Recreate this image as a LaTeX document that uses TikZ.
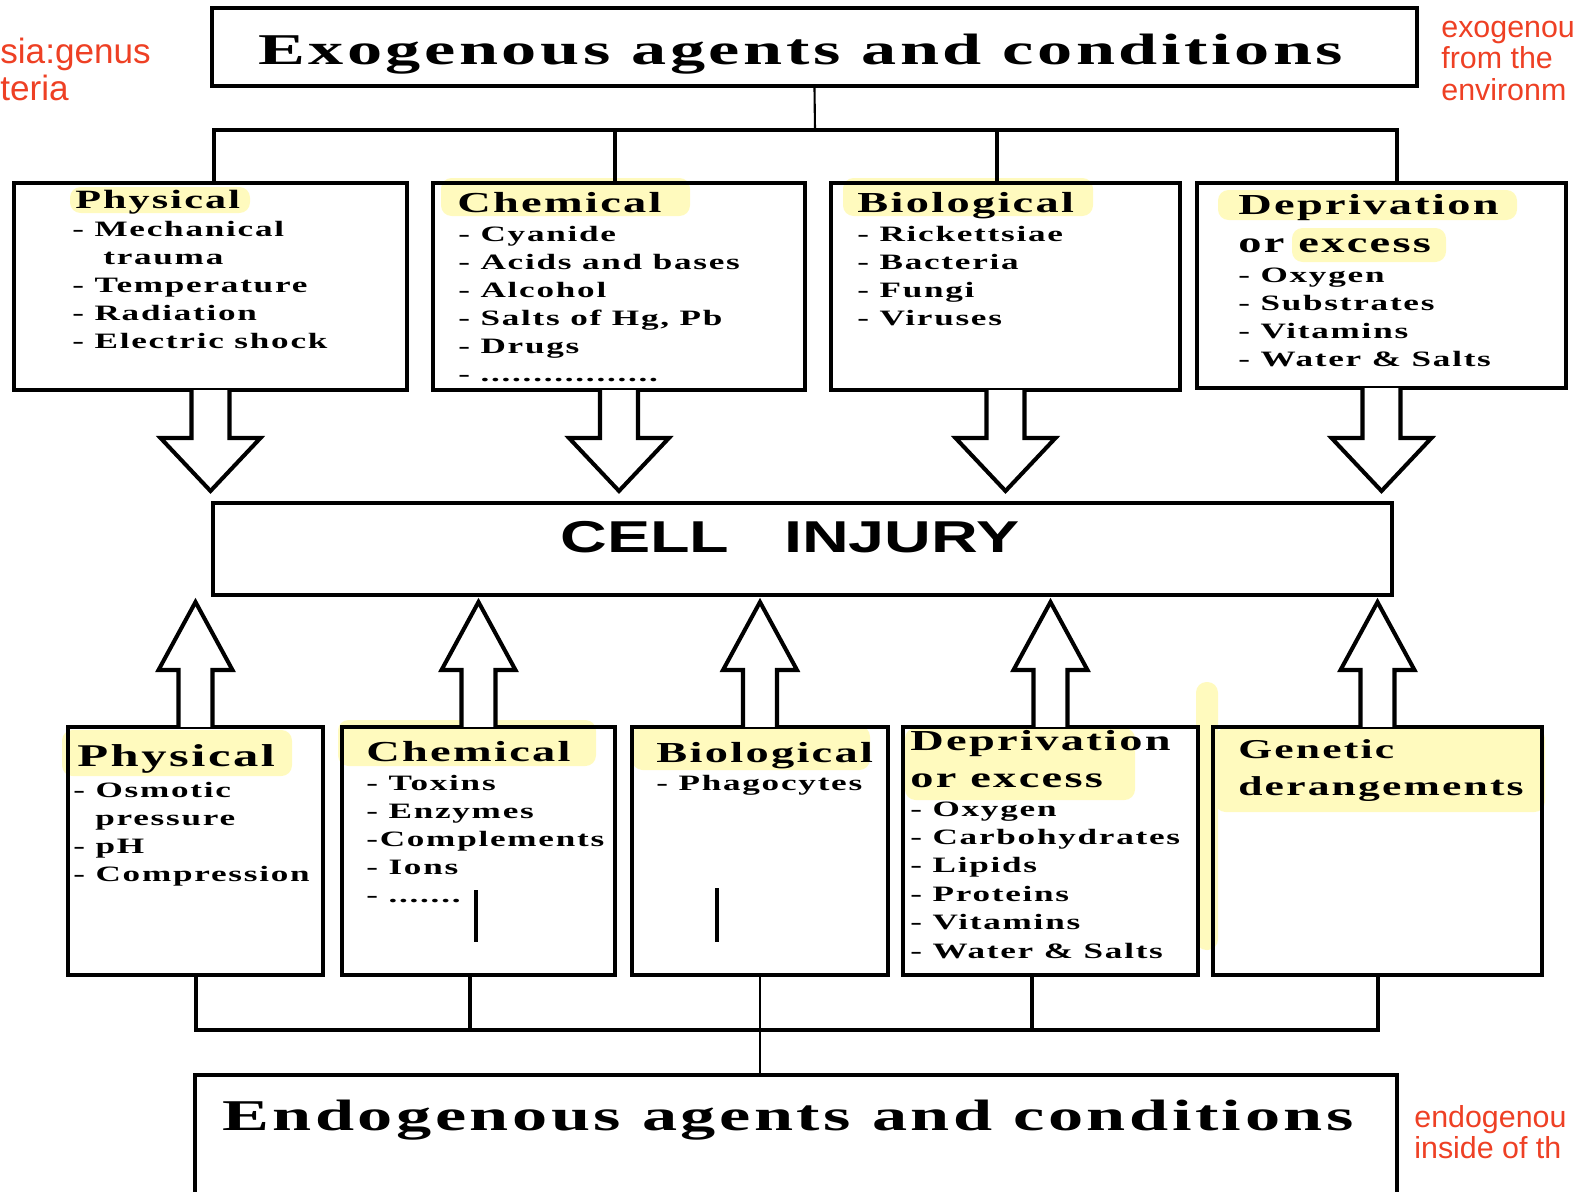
\documentclass[tikz,border=0pt]{standalone}
\usepackage{fontspec}
\setmainfont{Liberation Serif}[FakeStretch=1.6,LetterSpace=8]
\setsansfont{Liberation Sans}[FakeStretch=1.45]
\newfontfamily\notefont{Liberation Sans}
\usetikzlibrary{fit,calc}

\definecolor{marker}{RGB}{255,250,190}
\definecolor{notered}{RGB}{238,64,36}

\newcommand\longdots{.................}
\newcommand\shortdots{.......}

\tikzset{
  frame/.style={draw, line width=2.3pt, inner sep=0pt},
  bus/.style={line width=2.3pt},
  stem/.style={line width=1.2pt},
  bar/.style={line width=2.8pt},
  blockarrow/.style={draw, fill=white, line width=2.3pt, line join=miter},
  bigtitle/.style={font=\bfseries\fontsize{25}{28}\selectfont, inner sep=0pt, anchor=base west},
  boxtitle/.style={font=\bfseries\fontsize{#1}{#1}\selectfont, inner sep=0pt, anchor=base west},
  boxtitle/.default=16.5,
  entry/.style={font=\bfseries\fontsize{12.5}{15}\selectfont, inner sep=0pt, anchor=base west},
  note/.style={font=\notefont\fontsize{#1}{#1}\selectfont, text=notered, inner sep=0pt, anchor=base west},
  note/.default=17.3
}

% hollow block arrows between boxes
\newcommand\blockdown[2]{%
  \path[blockarrow] let \p1=(#1.south), \p2=(#2.north) in
    (\x1-0.38cm,\y1+0.04cm) -- (\x1-0.38cm,\y2+1.26cm) -- (\x1-1cm,\y2+1.26cm)
    -- (\x1,\y2+0.2cm) -- (\x1+1cm,\y2+1.26cm) -- (\x1+0.38cm,\y2+1.26cm)
    -- (\x1+0.38cm,\y1+0.04cm);}
\newcommand\blockup[2]{%
  \path[blockarrow] let \p1=(#1.north), \p2=(#2.south) in
    (\x1-0.34cm,\y1-0.04cm) -- (\x1-0.34cm,\y2-1.46cm) -- (\x1-0.74cm,\y2-1.46cm)
    -- (\x1,\y2-0.1cm) -- (\x1+0.74cm,\y2-1.46cm) -- (\x1+0.34cm,\y2-1.46cm)
    -- (\x1+0.34cm,\y1-0.04cm);}

\begin{document}
\begin{tikzpicture}[x=0.02cm, y=-0.02cm]
  \useasboundingbox (0,0) rectangle (1576,1191);
  \clip (0,0) rectangle (1576,1191);

  % highlights
  \fill[marker, rounded corners=6pt] (70,187) rectangle (250,213);
  \fill[marker, rounded corners=6pt] (441,178) rectangle (690,216);
  \fill[marker, rounded corners=6pt] (843,178) rectangle (1093,216);
  \fill[marker, rounded corners=6pt] (1218,190) rectangle (1517,220);
  \fill[marker, rounded corners=6pt] (1292,228) rectangle (1446,262);
  \fill[marker, rounded corners=6pt] (62,730) rectangle (292,776);
  \fill[marker, rounded corners=6pt] (338,720) rectangle (596,766);
  \fill[marker, rounded corners=6pt] (632,726) rectangle (870,770);
  \fill[marker, rounded corners=6pt] (905,728) rectangle (1135,800);
  \fill[marker, rounded corners=6pt] (1215,728) rectangle (1545,812);
  \fill[marker, rounded corners=6pt] (1196,682) rectangle (1218,950);

  % boxes
  \node[frame, fit={(212,8) (1417,86)}] (exo) {};
  \node[frame, fit={(14,183) (407,390)}] (phys1) {};
  \node[frame, fit={(433,183) (805,390)}] (chem1) {};
  \node[frame, fit={(831,183) (1180,390)}] (bio1) {};
  \node[frame, fit={(1197,183) (1566,388)}] (depr1) {};
  \node[frame, fit={(213,503) (1392,595)}] (cell) {};
  \node[frame, fit={(68,727) (323,975)}] (phys2) {};
  \node[frame, fit={(342,727) (615,975)}] (chem2) {};
  \node[frame, fit={(632,727) (888,975)}] (bio2) {};
  \node[frame, fit={(903,727) (1198,975)}] (depr2) {};
  \node[frame, fit={(1213,727) (1542,975)}] (gen2) {};
  \node[frame, fit={(195,1075) (1397,1200)}] (endo) {};

  % top tree
  \coordinate (hubT) at (815,130);
  \coordinate (d1) at (214,130);
  \coordinate (d2) at (615,130);
  \coordinate (d3) at (997,130);
  \coordinate (d4) at (1397,130);
  \draw[stem] (exo.south) -- (hubT);
  \draw[bus] (d1 |- phys1.north) -- (d1) -- (d4) -- (d4 |- depr1.north);
  \draw[bus] (d2) -- (d2 |- chem1.north);
  \draw[bus] (d3) -- (d3 |- bio1.north);

  % bottom tree
  \coordinate (u1) at (196,1030);
  \coordinate (u2) at (470,1030);
  \coordinate (u3) at (760,1030);
  \coordinate (u4) at (1032,1030);
  \coordinate (u5) at (1378,1030);
  \draw[bus] (u1 |- phys2.south) -- (u1) -- (u5) -- (u5 |- gen2.south);
  \draw[bus] (u2) -- (u2 |- chem2.south);
  \draw[bus] (u4) -- (u4 |- depr2.south);
  \draw[stem] (u3 |- bio2.south) -- (u3 |- endo.north);

  % block arrows
  \foreach \b in {phys1,chem1,bio1,depr1} \blockdown{\b}{cell};
  \foreach \b in {phys2,chem2,bio2,depr2,gen2} \blockup{\b}{cell};

  \draw[bar] (476,890) -- (476,942);
  \draw[bar] (717,888) -- (717,942);

  % titles
  \node[bigtitle] (exotxt) at (258,64) {Exogenous agents and conditions};
  \node[bigtitle] (endotxt) at (222,1130) {Endogenous agents and conditions};
  \node[font=\sffamily\bfseries\fontsize{25.4}{28}\selectfont, inner sep=0pt, anchor=base west]
    (celltxt) at (560,552) {CELL\hspace{1.1cm}INJURY};

  % exogenous boxes
  \node[boxtitle=15] (phys1t) at (75,208) {Physical};
  \foreach \t [count=\i from 0] in {{- Mechanical},{\hspace*{0.62cm}trauma},{- Temperature},{- Radiation},{- Electric shock}}
    \node[entry] (phys1-\i) at (72,236+28*\i) {\t};
  \node[boxtitle] (chem1t) at (457,212) {Chemical};
  \foreach \t [count=\i from 0] in {{- Cyanide},{- Acids and bases},{- Alcohol},{- Salts of Hg, Pb},{- Drugs},{- \longdots}}
    \node[entry] (chem1-\i) at (458,241+28*\i) {\t};
  \node[boxtitle] (bio1t) at (857,212) {Biological};
  \foreach \t [count=\i from 0] in {{- Rickettsiae},{- Bacteria},{- Fungi},{- Viruses}}
    \node[entry] (bio1-\i) at (857,241+28*\i) {\t};
  \node[boxtitle] (depr1t) at (1238,214) {Deprivation};
  \node[boxtitle] (depr1u) at (1238,252) {or excess};
  \foreach \t [count=\i from 0] in {{- Oxygen},{- Substrates},{- Vitamins},{- Water \& Salts}}
    \node[entry] (depr1-\i) at (1238,282+28*\i) {\t};

  % endogenous boxes
  \node[boxtitle=18] (phys2t) at (77,766) {Physical};
  \foreach \t [count=\i from 0] in {{- Osmotic},{\hspace*{0.44cm}pressure},{- pH},{- Compression}}
    \node[entry] (phys2-\i) at (73,797+28*\i) {\t};
  \node[boxtitle] (chem2t) at (366,761) {Chemical};
  \foreach \t [count=\i from 0] in {{- Toxins},{- Enzymes},{-Complements},{- Ions},{- \shortdots}}
    \node[entry] (chem2-\i) at (366,790+28*\i) {\t};
  \node[boxtitle] (bio2t) at (656,762) {Biological};
  \node[entry] (bio2-0) at (656,790) {- Phagocytes};
  \node[boxtitle] (depr2t) at (910,750) {Deprivation};
  \node[boxtitle] (depr2u) at (910,787) {or excess};
  \foreach \t [count=\i from 0] in {{- Oxygen},{- Carbohydrates},{- Lipids},{- Proteins},{- Vitamins},{- Water \& Salts}}
    \node[entry] (depr2-\i) at (910,816+28.4*\i) {\t};
  \node[boxtitle=15.5] (gen2t) at (1238,758) {Genetic};
  \node[boxtitle=15.5] (gen2u) at (1238,795) {derangements};

  % side notes
  \node[note=20] (noteL1) at (0,63) {sia:genus};
  \node[note=20] (noteL2) at (0,100) {teria};
  \node[note] (noteR1) at (1441,37) {exogenou};
  \node[note] (noteR2) at (1441,68) {from the};
  \node[note] (noteR3) at (1441,100) {environm};
  \node[note] (noteB1) at (1414,1127) {endogenou};
  \node[note] (noteB2) at (1414,1158) {inside of th};
\end{tikzpicture}
\end{document}
